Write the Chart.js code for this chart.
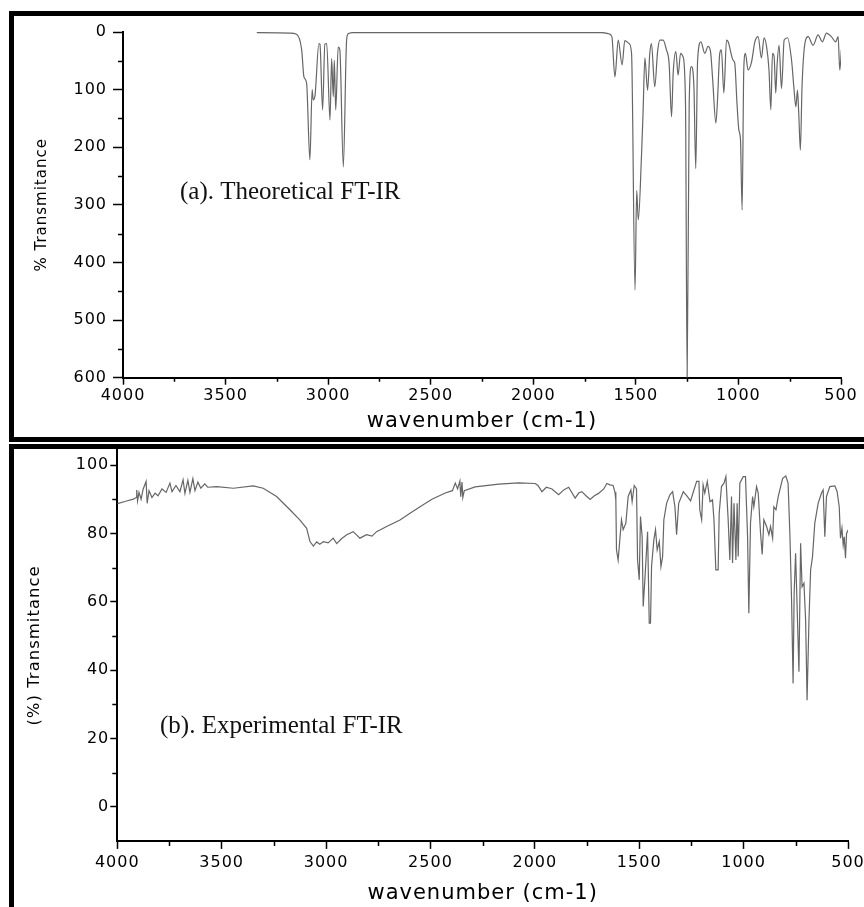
<!DOCTYPE html>
<html>
<head>
<meta charset="utf-8">
<script src="https://cdn.jsdelivr.net/npm/chart.js@4.4.0/dist/chart.umd.min.js"></script>
<style>
  html, body { margin: 0; padding: 0; background: #fff; overflow: hidden; width: 864px; height: 907px; }
  .panel { position: absolute; left: 9px; width: 880px; border: 5px solid #000; }
  #panelA { top: 11px; height: 421px; }
  #panelB { top: 444px; height: 480px; border-bottom: none; }
  canvas { display: block; }
</style>
</head>
<body>
<div class="panel" id="panelA"><canvas id="theory" width="870" height="421"></canvas></div>
<div class="panel" id="panelB"><canvas id="experiment" width="870" height="458"></canvas></div>
<script>
// (a) theoretical spectrum
const theoWavenumber = [3348, 3186, 3154, 3129, 3118, 3105, 3089, 3078, 3073, 3064,
  3045, 3040, 3027, 3016, 3007, 2991, 2983, 2975, 2970, 2963,
  2951, 2943, 2926, 2910, 2902, 2879, 1666, 1632, 1617, 1602,
  1586, 1567, 1554, 1533, 1521, 1504, 1496, 1488, 1472, 1465,
  1456, 1443, 1432, 1424, 1408, 1394, 1383, 1367, 1351, 1338,
  1326, 1318, 1305, 1294, 1282, 1270, 1258, 1250, 1240, 1229,
  1217, 1208, 1199, 1183, 1164, 1148, 1136, 1126, 1110, 1102,
  1091, 1083, 1071, 1058, 1050, 1026, 1018, 1007, 998, 990,
  982, 974, 966, 953, 936, 920, 904, 888, 875, 863,
  851, 842, 834, 826, 818, 812, 802, 790, 777, 761,
  741, 730, 720, 712, 706, 698, 690, 676, 660, 636,
  612, 591, 571, 547, 526, 514, 506, 498];
const theoTransmittance = [1, 2, 4, 31, 78, 89, 222, 100, 118, 110,
  20, 21, 135, 21, 20, 153, 46, 112, 49, 135,
  26, 31, 234, 14, 3, 1, 1, 3, 8, 78,
  14, 57, 15, 20, 37, 448, 275, 326, 210, 141,
  45, 101, 37, 20, 95, 34, 14, 14, 31, 54,
  147, 71, 34, 75, 37, 43, 124, 600, 124, 60,
  95, 237, 49, 17, 37, 25, 34, 80, 158, 118,
  37, 31, 106, 14, 17, 49, 54, 124, 170, 187,
  309, 66, 37, 66, 52, 17, 8, 45, 10, 25,
  66, 135, 37, 43, 106, 60, 23, 98, 14, 10,
  49, 95, 130, 101, 141, 205, 95, 20, 8, 23,
  5, 17, 2, 8, 17, 8, 66, 31];

// (b) experimental spectrum
const expWavenumber = [4000, 3995, 3960, 3923, 3910, 3907, 3903, 3896, 3886, 3876,
  3862, 3857, 3848, 3834, 3819, 3805, 3786, 3766, 3748, 3738,
  3719, 3700, 3685, 3676, 3662, 3652, 3638, 3628, 3614, 3600,
  3581, 3567, 3524, 3444, 3349, 3301, 3237, 3173, 3125, 3093,
  3077, 3061, 3045, 3030, 3013, 2990, 2966, 2949, 2925, 2901,
  2870, 2838, 2806, 2780, 2758, 2710, 2646, 2598, 2550, 2493,
  2429, 2395, 2381, 2370, 2359, 2355, 2349, 2345, 2338, 2286,
  2173, 2078, 1998, 1985, 1966, 1945, 1918, 1886, 1860, 1838,
  1807, 1790, 1775, 1755, 1735, 1715, 1695, 1670, 1655, 1640,
  1625, 1616, 1612, 1609, 1601, 1593, 1585, 1577, 1564, 1553,
  1540, 1534, 1524, 1513, 1508, 1500, 1494, 1486, 1481, 1473,
  1460, 1452, 1446, 1441, 1430, 1422, 1414, 1404, 1396, 1388,
  1382, 1369, 1353, 1340, 1329, 1321, 1311, 1289, 1270, 1254,
  1238, 1225, 1214, 1210, 1201, 1194, 1186, 1174, 1161, 1149,
  1142, 1133, 1122, 1117, 1106, 1094, 1085, 1074, 1066, 1058,
  1053, 1046, 1037, 1031, 1026, 1018, 1002, 991, 981, 975,
  967, 957, 951, 938, 930, 919, 911, 903, 890, 879,
  871, 861, 855, 845, 834, 813, 798, 787, 778, 770,
  763, 758, 751, 746, 735, 727, 720, 711, 703, 696,
  687, 679, 670, 659, 643, 627, 619, 611, 603, 587,
  563, 552, 542, 536, 529, 523, 518, 512, 507, 499];
const expTransmittance = [88.7, 88.8, 89.4, 90.0, 90.5, 92.7, 89.5, 92, 90, 93,
  95.2, 88.8, 92.5, 90.5, 91.8, 91, 93, 92, 94.7, 92.2,
  94, 92.2, 95.7, 91.7, 95.5, 92, 96, 92.5, 95, 93.2,
  94.5, 93.5, 93.7, 93.2, 93.9, 93.2, 90.8, 86.9, 83.9, 81.5,
  77.6, 76.3, 77.5, 76.8, 77.6, 77.2, 78.6, 77, 78.5, 79.6,
  80.5, 78.6, 79.6, 79.2, 80.5, 82, 83.9, 85.9, 87.8, 90,
  91.8, 92.5, 94.7, 93, 95.3, 90.7, 95, 90.5, 92.5, 93.6,
  94.4, 94.8, 94.6, 94, 92.2, 93.5, 93, 91.3, 92.8, 93.5,
  90.3, 91.8, 92.2, 91, 89.9, 91, 91.7, 93, 94.6, 94.2,
  94, 92, 89.8, 75.2, 72.2, 78.1, 84, 81.1, 83, 90.8,
  92.7, 89.3, 94, 93, 72.2, 66.4, 84.9, 79, 58.6, 66.4,
  80.5, 53.7, 53.7, 70.3, 78.1, 81.1, 75.2, 77.6, 70.3, 73.2,
  84, 88.8, 91.3, 92.2, 87.8, 79.6, 88.8, 92.2, 90.8, 89.5,
  92.7, 95.2, 95.2, 86.9, 84, 94.2, 91.8, 95.2, 89.3, 89.8,
  84, 69.3, 69.3, 85.9, 93.7, 94.7, 96.6, 84, 72.2, 90.8,
  71.3, 88.8, 72.2, 88.8, 73.2, 94.7, 96.6, 96.6, 79, 56.6,
  83, 90.8, 87.8, 93.7, 91.8, 80.1, 73.8, 84, 82, 79.6,
  82, 78.6, 87.8, 86.9, 90.8, 96.1, 96.8, 94.7, 79, 59.6,
  36.1, 62.4, 74.2, 63.4, 39.5, 77.1, 64.4, 65.4, 54.6, 31.2,
  54.6, 69.3, 73.2, 83, 88.8, 91.8, 92.7, 79, 90.8, 93.7,
  93.9, 92.2, 87.8, 78.6, 81.5, 76.6, 79, 72.7, 80, 81];

const xTitle = 'wavenumber (cm-1)';

// the original figure uses a wide sans, a little letter spacing gets close
const spacing = {
  id: 'spacing',
  beforeLayout(chart) { chart.ctx.letterSpacing = '1px'; },
  beforeDraw(chart) { chart.ctx.letterSpacing = '1px'; }
};

// short unlabelled ticks between the labelled ones
const minorTicks = {
  id: 'minorTicks',
  afterDraw(chart, args, opts) {
    const ctx = chart.ctx;
    const xs = chart.scales.x, ys = chart.scales.y;
    ctx.save();
    ctx.strokeStyle = '#000';
    ctx.lineWidth = 1.5;
    ctx.beginPath();
    for (let v = opts.x.from; v < xs.max; v += opts.x.step) {
      const px = Math.round(xs.getPixelForValue(v)) + 0.5;
      ctx.moveTo(px, xs.top);
      ctx.lineTo(px, xs.top + opts.x.len);
    }
    for (let v = opts.y.from; v < ys.max; v += opts.y.step) {
      const py = Math.round(ys.getPixelForValue(v)) + 0.5;
      ctx.moveTo(ys.right - opts.y.len, py);
      ctx.lineTo(ys.right, py);
    }
    ctx.stroke();
    ctx.restore();
  }
};

// the "(a). Theoretical FT-IR" style caption inside the plot
const panelLabel = {
  id: 'panelLabel',
  afterDraw(chart, args, opts) {
    const ctx = chart.ctx;
    ctx.save();
    ctx.letterSpacing = '0px';
    ctx.font = '25px "Liberation Serif", "Times New Roman", serif';
    ctx.fillStyle = '#111';
    ctx.textBaseline = 'alphabetic';
    ctx.fillText(opts.text, opts.left, opts.baseline);
    ctx.restore();
  }
};

function spectrum(canvasId, wn, values, o) {
  const points = wn.map((w, i) => ({ x: w, y: values[i] }));
  return new Chart(document.getElementById(canvasId), {
    type: 'line',
    data: {
      datasets: [{
        data: points,
        borderColor: '#666',
        borderWidth: 1.2,
        pointRadius: 0,
        fill: false,
        tension: 0,
        cubicInterpolationMode: o.smooth ? 'monotone' : 'default'
      }]
    },
    options: {
      responsive: false,
      animation: false,
      events: [],
      layout: { padding: o.padding },
      plugins: {
        legend: { display: false },
        tooltip: { enabled: false },
        minorTicks: o.minor,
        panelLabel: o.label
      },
      scales: {
        x: {
          type: 'linear',
          reverse: true,
          min: 500,
          max: 4000,
          border: { display: true, color: '#000', width: 2 },
          grid: { drawOnChartArea: false, drawTicks: true, tickLength: o.xTick, tickColor: '#000', tickWidth: 1.5 },
          ticks: {
            stepSize: 500,
            padding: o.xPad,
            color: '#000',
            maxRotation: 0,
            font: { family: '"DejaVu Sans"', size: 16 },
            callback: v => String(v)
          },
          title: {
            display: true,
            text: xTitle,
            color: '#000',
            font: { family: '"DejaVu Sans"', size: 21 },
            padding: { top: 0, bottom: o.xTitlePad }
          },
          afterFit(scale) { scale.height = o.xHeight; }
        },
        y: {
          type: 'linear',
          reverse: o.yReverse,
          min: o.yMin,
          max: o.yMax,
          border: { display: true, color: '#000', width: 2 },
          grid: { drawOnChartArea: false, drawTicks: true, tickLength: o.yTick, tickColor: '#000', tickWidth: 1.5 },
          ticks: {
            stepSize: o.yStep,
            includeBounds: false,
            padding: o.yPad,
            color: '#000',
            font: { family: '"DejaVu Sans"', size: 16 },
            callback: v => String(v)
          },
          title: {
            display: true,
            text: o.yTitle,
            color: '#000',
            font: { family: '"DejaVu Sans"', size: o.yTitleSize },
            padding: { top: o.yTitlePad, bottom: 0 }
          },
          afterFit(scale) {
            scale.width = o.yWidth;
            scale.paddingTop = 0;
            scale.paddingBottom = 0;
          }
        }
      }
    },
    plugins: [spacing, minorTicks, panelLabel]
  });
}

spectrum('theory', theoWavenumber, theoTransmittance, {
  smooth: true,
  padding: { left: 0, top: 16, right: 43, bottom: 0 },
  yReverse: true, yMin: 0, yMax: 600, yStep: 100,
  yTitle: '% Transmitance', yTitleSize: 15, yTitlePad: 19,
  yWidth: 109, yTick: 10, yPad: 6,
  xHeight: 59.3, xTick: 7, xPad: 2, xTitlePad: 2.4,
  minor: { x: { from: 750, step: 500, len: 4 }, y: { from: 50, step: 100, len: 5 } },
  label: { text: '(a). Theoretical FT-IR', left: 166, baseline: 183 }
});

spectrum('experiment', expWavenumber, expTransmittance, {
  smooth: false,
  padding: { left: 0, top: 1, right: 36, bottom: 0 },
  yReverse: false, yMin: -10, yMax: 104.4, yStep: 20,
  yTitle: '(%) Transmitance', yTitleSize: 16.5, yTitlePad: 11,
  yWidth: 103.3, yTick: 7, yPad: 1,
  xHeight: 66.1, xTick: 8, xPad: 4.4, xTitlePad: 0.4,
  minor: { x: { from: 750, step: 500, len: 5 }, y: { from: 10, step: 20, len: 5 } },
  label: { text: '(b). Experimental FT-IR', left: 146, baseline: 283.5 }
});
</script>
</body>
</html>
